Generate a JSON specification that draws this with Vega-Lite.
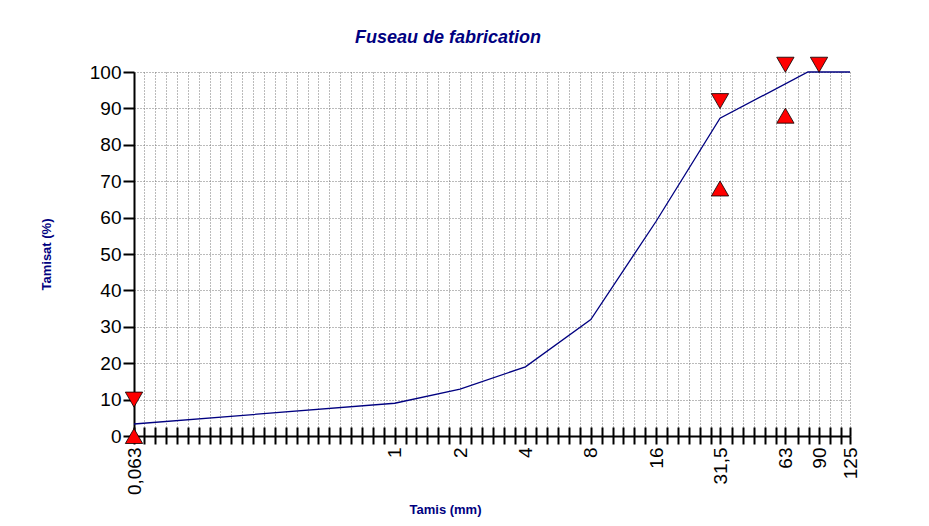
{
  "$schema": "https://vega.github.io/schema/vega-lite/v6.json",
  "width": 716,
  "height": 364,
  "autosize": {"type": "none"},
  "padding": {"left": 134, "top": 72, "right": 79, "bottom": 90},
  "background": "white",
  "title": {
    "text": "Fuseau de fabrication",
    "font": "Liberation Sans",
    "fontSize": 18,
    "fontStyle": "italic",
    "fontWeight": "bold",
    "color": "#000080",
    "anchor": "middle",
    "frame": "group",
    "dx": -44,
    "offset": 9
  },
  "config": {
    "view": {"stroke": null},
    "font": "Liberation Sans",
    "axis": {
      "labelFont": "Liberation Sans",
      "titleFont": "Liberation Sans",
      "labelColor": "black",
      "domainColor": "black",
      "tickColor": "black",
      "gridColor": "#777777",
      "gridDash": [1, 2],
      "gridWidth": 1
    }
  },
  "resolve": {"axis": {"x": "independent"}},
  "layer": [
    {
      "data": {"values": [
        {"tamis": 0.063, "tamisat": 3.3},
        {"tamis": 1, "tamisat": 9},
        {"tamis": 2, "tamisat": 12.9},
        {"tamis": 4, "tamisat": 19},
        {"tamis": 8, "tamisat": 32},
        {"tamis": 16, "tamisat": 59},
        {"tamis": 31.5, "tamisat": 87.3},
        {"tamis": 80, "tamisat": 100},
        {"tamis": 125, "tamisat": 100}
      ]},
      "mark": {"type": "line", "color": "#000080", "strokeWidth": 1.3, "clip": false},
      "encoding": {
        "x": {
          "field": "tamis", "type": "quantitative",
          "scale": {"type": "log", "domain": [0.063, 125], "nice": false},
          "axis": {
            "orient": "bottom",
            "title": "Tamis (mm)",
            "titleColor": "#000080",
            "titleFontSize": 13,
            "titleFontWeight": "bold",
            "titleX": 311,
            "titleAlign": "center",
            "titleY": 67,
            "titleBaseline": "top",
            "values": [0.063, 0.070154, 0.078745, 0.088388, 0.099213, 0.111362, 0.125, 0.140308, 0.15749, 0.176777, 0.198425, 0.222725, 0.25, 0.280616, 0.31498, 0.353553, 0.39685, 0.445449, 0.5, 0.561231, 0.629961, 0.707107, 0.793701, 0.890899, 1, 1.122462, 1.259921, 1.414214, 1.587401, 1.781797, 2, 2.244924, 2.519842, 2.828427, 3.174802, 3.563595, 4, 4.489848, 5.039684, 5.656854, 6.349604, 7.12719, 8, 8.979696, 10.079368, 11.313708, 12.699208, 14.254379, 16, 17.959393, 20.158737, 22.627417, 25.398417, 28.508759, 31.5, 35.918786, 40.317474, 45.254834, 50.796834, 57.017518, 63, 71.837571, 80.634947, 90, 101.593667, 114.035036, 125],
            "labelExpr": "indexof([0.063,1,2,4,8,16,31.5,63,90,125], datum.value) >= 0 ? replace(toString(datum.value), '.', ',') : ''",
            "labelAngle": -90,
            "labelFontSize": 19,
            "labelPadding": 3,
            "labelOverlap": false,
            "labelFlush": false,
            "tickSize": 8,
            "tickWidth": 2,
            "domainWidth": 2,
            "grid": true
          }
        },
        "y": {
          "field": "tamisat", "type": "quantitative",
          "scale": {"domain": [0, 100], "nice": false},
          "axis": {
            "title": "Tamisat (%)",
            "titleColor": "#000080",
            "titleFontSize": 13,
            "titleFontWeight": "bold",
            "titlePadding": 36,
            "values": [0, 10, 20, 30, 40, 50, 60, 70, 80, 90, 100],
            "labelFontSize": 19,
            "labelPadding": 2,
            "labelOverlap": false,
            "labelFlush": false,
            "tickSize": 11,
            "tickWidth": 2,
            "domainWidth": 2,
            "grid": true
          }
        }
      }
    },
    {
      "data": {"values": [
        {"tamis": 0.063, "limite": 10, "type": "max"},
        {"tamis": 31.5, "limite": 92, "type": "max"},
        {"tamis": 63, "limite": 102, "type": "max"},
        {"tamis": 90, "limite": 102, "type": "max"},
        {"tamis": 0.063, "limite": 0, "type": "min"},
        {"tamis": 31.5, "limite": 68, "type": "min"},
        {"tamis": 63, "limite": 88, "type": "min"}
      ]},
      "mark": {"type": "point", "filled": true, "size": 300, "stroke": "black", "strokeWidth": 0.8, "fill": "#ff0000", "opacity": 1, "clip": false},
      "encoding": {
        "x": {
          "field": "tamis", "type": "quantitative",
          "axis": {
            "orient": "bottom",
            "title": null,
            "values": [0.063, 0.070154, 0.078745, 0.088388, 0.099213, 0.111362, 0.125, 0.140308, 0.15749, 0.176777, 0.198425, 0.222725, 0.25, 0.280616, 0.31498, 0.353553, 0.39685, 0.445449, 0.5, 0.561231, 0.629961, 0.707107, 0.793701, 0.890899, 1, 1.122462, 1.259921, 1.414214, 1.587401, 1.781797, 2, 2.244924, 2.519842, 2.828427, 3.174802, 3.563595, 4, 4.489848, 5.039684, 5.656854, 6.349604, 7.12719, 8, 8.979696, 10.079368, 11.313708, 12.699208, 14.254379, 16, 17.959393, 20.158737, 22.627417, 25.398417, 28.508759, 31.5, 35.918786, 40.317474, 45.254834, 50.796834, 57.017518, 63, 71.837571, 80.634947, 90, 101.593667, 114.035036, 125],
            "labels": false,
            "domain": false,
            "grid": false,
            "tickSize": 9,
            "tickWidth": 2,
            "offset": -9
          }
        },
        "y": {
          "field": "limite", "type": "quantitative",
          "axis": {
            "title": "Tamisat (%)",
            "titleColor": "#000080",
            "titleFontSize": 13,
            "titleFontWeight": "bold",
            "titlePadding": 36,
            "values": [0, 10, 20, 30, 40, 50, 60, 70, 80, 90, 100],
            "labelFontSize": 19,
            "labelPadding": 2,
            "labelOverlap": false,
            "labelFlush": false,
            "tickSize": 11,
            "tickWidth": 2,
            "domainWidth": 2,
            "grid": true
          }
        },
        "shape": {
          "field": "type", "type": "nominal",
          "scale": {"domain": ["max", "min"], "range": ["triangle-down", "triangle-up"]},
          "legend": null
        }
      }
    }
  ]
}
